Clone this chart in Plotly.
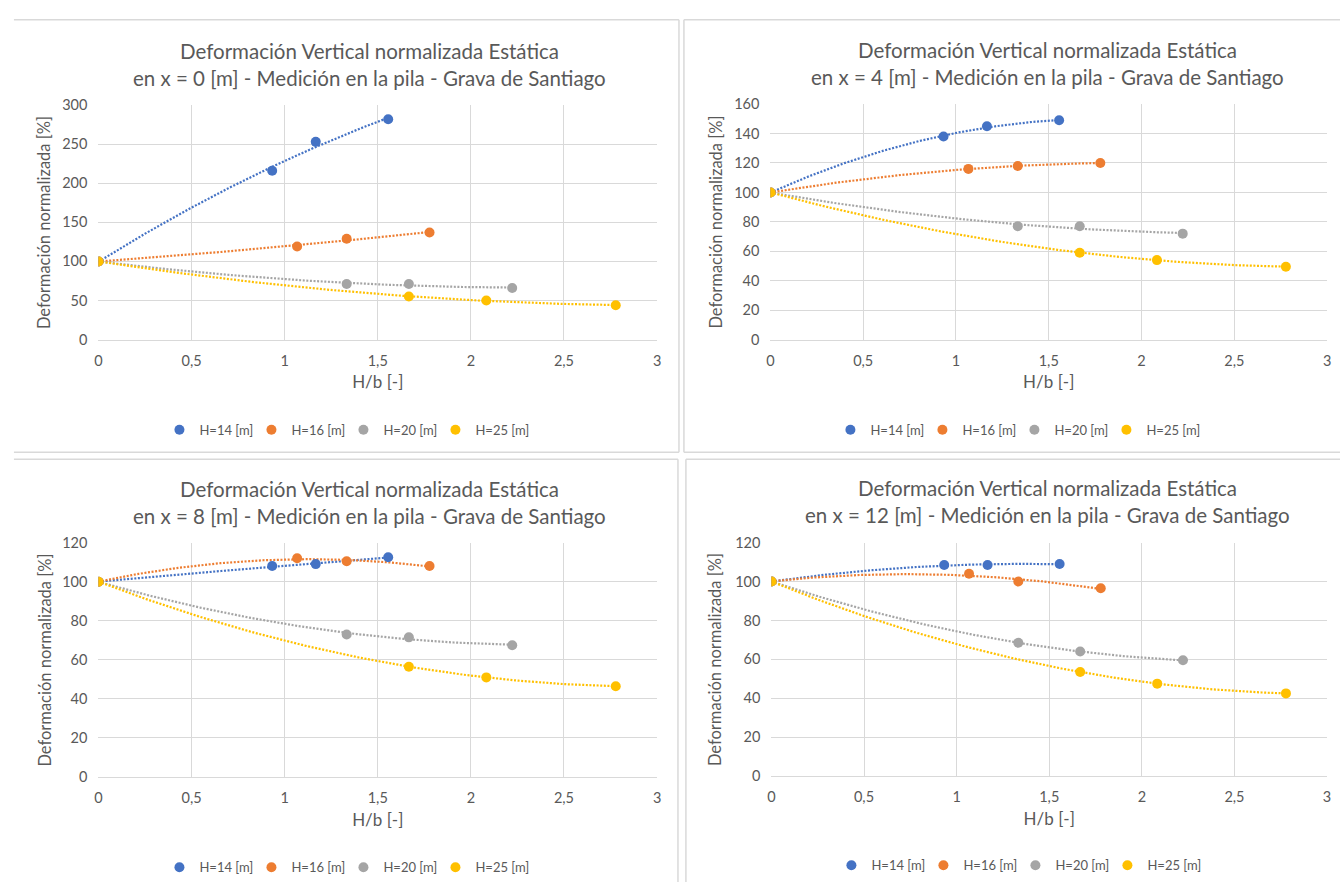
import numpy as np
import plotly.graph_objects as go

W, H = 1344, 890

# H/b values for each embankment height
hb_14 = [0, 0.933, 1.167, 1.556]
hb_16 = [0, 1.067, 1.333, 1.778]
hb_20 = [0, 1.333, 1.667, 2.222]
hb_25 = [0, 1.667, 2.083, 2.778]

# Normalised vertical deformation [%] at each measurement position x
x0_h14 = [100, 216, 253, 282]
x0_h16 = [100, 119, 129, 137]
x0_h20 = [100, 71, 71, 66]
x0_h25 = [100, 55, 50, 44]

x4_h14 = [100, 138, 145, 149]
x4_h16 = [100, 116, 118, 120]
x4_h20 = [100, 77, 77, 72]
x4_h25 = [100, 59, 54, 49.5]

x8_h14 = [100, 108, 109, 112.5]
x8_h16 = [100, 112, 110.5, 108]
x8_h20 = [100, 73, 71.5, 67.5]
x8_h25 = [100, 56.5, 51, 46.5]

x12_h14 = [100, 108.5, 108.5, 109]
x12_h16 = [100, 104, 100, 96.5]
x12_h20 = [100, 68.5, 64, 59.5]
x12_h25 = [100, 53.5, 47.5, 42.5]

series_names = ["H=14 [m]", "H=16 [m]", "H=20 [m]", "H=25 [m]"]
series_x = [hb_14, hb_16, hb_20, hb_25]
colors = ["#4472C4", "#ED7D31", "#A5A5A5", "#FFC000"]
# width reserved for each legend entry's text (last one holds its full label)
legend_widths = [47, 47, 47, 58]

positions = ["0", "4", "8", "12"]
panel_values = [
    [x0_h14, x0_h16, x0_h20, x0_h25],
    [x4_h14, x4_h16, x4_h20, x4_h25],
    [x8_h14, x8_h16, x8_h20, x8_h25],
    [x12_h14, x12_h16, x12_h20, x12_h25],
]
y_max = [300, 160, 120, 120]
y_step = [50, 20, 20, 20]

# Pixel layout of each chart: plot area, text rows and frame edges
panels = [
    dict(px0=95, px1=657, py0=98, py1=337, tc=368, lc=347,
         t1=43, t2=70, leg=429, yt=41,
         frame=[(10, 11, 679, 11), (679, 11, 679, 452), (10, 452, 679, 452)]),
    dict(px0=771, px1=1331, py0=97, py1=337, tc=1050, lc=1022,
         t1=42, t2=69, leg=429, yt=716,
         frame=[(684, 11, 1344, 11), (684, 11, 684, 452), (684, 452, 1344, 452)]),
    dict(px0=95, px1=657, py0=544, py1=783, tc=368, lc=347,
         t1=489, t2=517, leg=875, yt=41,
         frame=[(10, 459, 678, 459), (678, 459, 678, 890)]),
    dict(px0=772, px1=1331, py0=544, py1=782, tc=1050, lc=1023,
         t1=488, t2=516, leg=873, yt=716,
         frame=[(686, 459, 1344, 459), (686, 459, 686, 890)]),
]

FONT = "Lato"
TXT = "#595959"
GRID = "#D9D9D9"


def fx(px):
    return px / W


def fy(py):
    return 1 - py / H


fig = go.Figure()
annotations = []
shapes = []
layout_axes = {}

for i, (pos, vals, p) in enumerate(zip(positions, panel_values, panels)):
    n = "" if i == 0 else str(i + 1)
    xa, ya = "x" + n, "y" + n
    leg = "legend" if i == 0 else "legend" + str(i + 1)

    for name, xs, ys, c in zip(series_names, series_x, vals, colors):
        # second-order polynomial trendline through the measured points
        coef = np.polyfit(xs, ys, 2)
        xf = np.linspace(0, max(xs), 150)
        fig.add_trace(go.Scatter(
            x=xf, y=np.polyval(coef, xf), mode="lines", xaxis=xa, yaxis=ya,
            line=dict(color=c, width=2.2, dash="2px,1.6px"), showlegend=False,
            hoverinfo="skip"))
    for name, xs, ys, c, lw in zip(series_names, series_x, vals, colors,
                                   legend_widths):
        fig.add_trace(go.Scatter(
            x=xs, y=ys, mode="markers", name=name, xaxis=xa, yaxis=ya,
            marker=dict(color=c, size=10), legend=leg, legendwidth=lw))

    layout_axes["xaxis" + n] = dict(
        domain=[fx(p["px0"]), fx(p["px1"])], anchor=ya, range=[0, 3],
        dtick=0.5, tick0=0, showgrid=True, gridcolor=GRID, gridwidth=1,
        showline=True, linecolor=GRID, linewidth=1, zeroline=False,
        ticks="", ticklabelstandoff=8,
        tickfont=dict(family=FONT, size=14.5, color=TXT),
        title=dict(text="H/b [-]", font=dict(family=FONT, size=17, color=TXT),
                   standoff=8))
    layout_axes["yaxis" + n] = dict(
        domain=[fy(p["py1"]), fy(p["py0"])], anchor=xa,
        range=[0, y_max[i]], dtick=y_step[i], tick0=0, showgrid=True,
        gridcolor=GRID, gridwidth=1, showline=False, zeroline=False,
        ticks="", ticklabelstandoff=10,
        tickfont=dict(family=FONT, size=14.5, color=TXT))

    layout_axes[leg] = dict(
        orientation="h", x=fx(p["lc"]), xanchor="center", y=fy(p["leg"]),
        yanchor="middle", font=dict(family=FONT, size=13, color=TXT),
        itemwidth=30, bgcolor="rgba(0,0,0,0)")

    cx = fx(p["tc"])
    annotations.append(dict(
        text="Deformación Vertical normalizada Estática", x=cx, y=fy(p["t1"]),
        xref="paper", yref="paper", showarrow=False, xanchor="center",
        yanchor="middle", font=dict(family=FONT, size=20.5, color=TXT)))
    annotations.append(dict(
        text=f"en x = {pos} [m] - Medición en la pila - Grava de Santiago",
        x=cx, y=fy(p["t2"]), xref="paper", yref="paper", showarrow=False,
        xanchor="center", yanchor="middle",
        font=dict(family=FONT, size=20.5, color=TXT)))
    annotations.append(dict(
        text="Deformación normalizada [%]", x=fx(p["yt"]),
        y=fy((p["py0"] + p["py1"]) / 2), xref="paper", yref="paper",
        showarrow=False, textangle=-90, xanchor="center", yanchor="middle",
        font=dict(family=FONT, size=16.5, color=TXT)))

    # chart frame edges
    for (a0, b0, a1, b1) in p["frame"]:
        shapes.append(dict(type="line", xref="paper", yref="paper",
                           x0=fx(a0), x1=fx(a1), y0=fy(b0), y1=fy(b1),
                           line=dict(color=GRID, width=1.5), layer="below"))

fig.update_layout(
    width=W, height=H, margin=dict(l=0, r=0, t=0, b=0),
    paper_bgcolor="white", plot_bgcolor="white", separators=",.",
    annotations=annotations, shapes=shapes, **layout_axes)

fig.write_html("out.html")
